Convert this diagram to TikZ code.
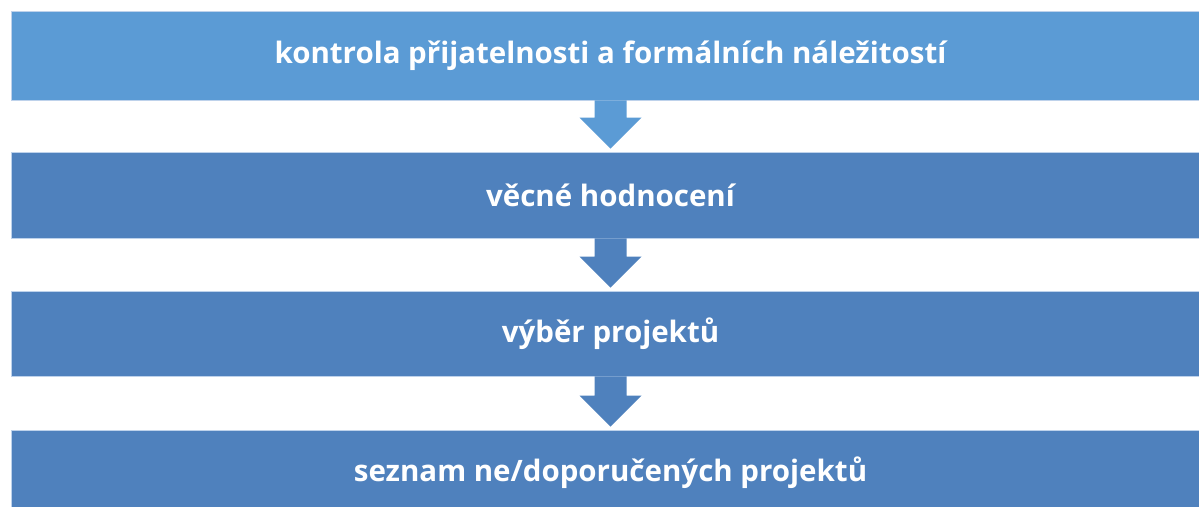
\documentclass[tikz,border=0pt]{standalone}
\usepackage{fontspec}
\setmainfont{Open Sans}
\usepackage{tikz}
\usetikzlibrary{calc}
\definecolor{stepblue}{RGB}{91,155,213}
\definecolor{stepdark}{RGB}{79,129,189}
\definecolor{stepedge}{RGB}{190,210,235}
\newcommand{\connect}[3]{
  \fill [#3] ($(#1.south)+(-16,0)$) -- ($(#2.north)+(-16,34)$) -- ($(#2.north)+(-31,34)$)
    -- ($(#2.north)+(0,3)$) -- ($(#2.north)+(31,34)$) -- ($(#2.north)+(16,34)$)
    -- ($(#1.south)+(16,0)$) -- cycle
}

\begin{document}
\begin{tikzpicture}[x=1pt,y=1pt,
  stepbox/.style={rectangle, draw=stepedge, line width=0.6pt, minimum width=1199pt,
    inner sep=0pt, text=white, font=\fontsize{29.5}{34}\selectfont\bfseries}]
\useasboundingbox (0,0) rectangle (1199,506);

% first step
\node [stepbox, fill=stepblue, minimum height=89pt] (S1) at (610.5,450.5)
  {kontrola přijatelnosti a formálních náležitostí};

% second step
\node [stepbox, fill=stepdark, minimum height=86pt] (S2) at (610.5,311)
  {věcné hodnocení};

% third step
\node [stepbox, fill=stepdark, minimum height=85pt] (S3) at (610.5,172.5)
  {výběr projektů};

% result
\node [stepbox, fill=stepdark, minimum height=86pt] (S4) at (610.5,33)
  {seznam ne/doporučených projektů};

% arrows
\connect {S1} {S2} {stepblue};
\connect {S2} {S3} {stepdark};
\connect {S3} {S4} {stepdark};

\end{tikzpicture}
\end{document}
